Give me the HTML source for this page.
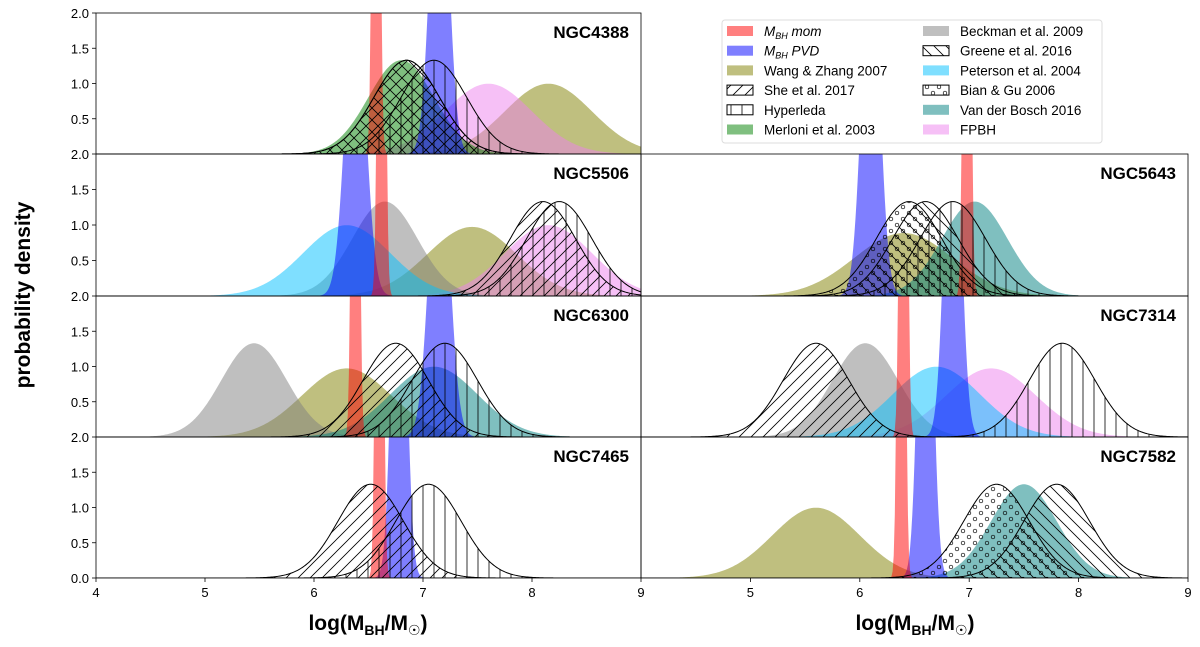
<!DOCTYPE html>
<html><head><meta charset="utf-8"><style>
body{margin:0;background:#fff;}
svg{font-family:"Liberation Sans","DejaVu Sans",sans-serif;}
</style></head><body>
<svg id="chart" width="1200" height="642" xmlns="http://www.w3.org/2000/svg">
<defs>
<pattern id="h-she" patternUnits="userSpaceOnUse" width="12" height="12"><path d="M-3,3 L3,-3 M0,12 L12,0 M9,15 L15,9" stroke="#000" stroke-width="0.8"/></pattern>
<pattern id="h-greene" patternUnits="userSpaceOnUse" width="12" height="12"><path d="M-3,9 L3,15 M0,0 L12,12 M9,-3 L15,3" stroke="#000" stroke-width="0.8"/></pattern>
<pattern id="h-hyper" patternUnits="userSpaceOnUse" width="11" height="11"><path d="M5,0 L5,11" stroke="#000" stroke-width="0.8"/></pattern>
<pattern id="h-bian" patternUnits="userSpaceOnUse" width="12" height="12"><circle cx="3" cy="3" r="1.8" fill="none" stroke="#000" stroke-width="0.7"/><circle cx="9" cy="9" r="1.8" fill="none" stroke="#000" stroke-width="0.7"/></pattern>
<pattern id="h-cross" patternUnits="userSpaceOnUse" width="12" height="12"><path d="M0,12 L12,0 M0,0 L12,12" stroke="#000" stroke-width="0.8"/></pattern>
</defs>
<g id="plots"></g>
<text x="30" y="295" transform="rotate(-90 30 295)" text-anchor="middle" font-size="21" font-weight="bold">probability density</text>
<text x="368" y="630" text-anchor="middle" font-size="21" font-weight="bold">log(M<tspan font-size="14" dy="5">BH</tspan><tspan dy="-5">/M</tspan><tspan font-size="14" dy="5">☉</tspan><tspan dy="-5">)</tspan></text>
<text x="915" y="630" text-anchor="middle" font-size="21" font-weight="bold">log(M<tspan font-size="14" dy="5">BH</tspan><tspan dy="-5">/M</tspan><tspan font-size="14" dy="5">☉</tspan><tspan dy="-5">)</tspan></text>
<g id="legend"></g>
</svg>
<script>
const panelNames = ["NGC4388","NGC5506","NGC5643","NGC6300","NGC7314","NGC7465","NGC7582"];
const panelCols = [0,0,1,0,1,0,1];
const panelRows = [0,1,1,2,2,3,3];
// components: panel index, type, mean, sigma
const compPanel = [0,0,0,0,0,0,0,0,
  1,1,1,1,1,1,1,1,
  2,2,2,2,2,2,2,
  3,3,3,3,3,3,3,
  4,4,4,4,4,4,4,
  5,5,5,5,
  6,6,6,6,6,6];
const compType = ["wang","fpbh","merloni","pvd","mom","she","greene","hyper",
  "peterson","beckman","wang","fpbh","pvd","mom","she","hyper",
  "wang","vdb","pvd","mom","bian","greene","hyper",
  "beckman","wang","vdb","pvd","mom","she","hyper",
  "beckman","peterson","fpbh","mom","pvd","she","hyper",
  "mom","pvd","she","hyper",
  "wang","vdb","mom","pvd","bian","greene"];
const compMean = [8.15,7.6,6.8,7.15,6.57,6.85,6.85,7.1,
  6.3,6.65,7.45,8.15,6.38,6.62,8.1,8.25,
  6.4,7.05,6.1,6.98,6.45,6.6,6.85,
  5.45,6.3,7.1,7.15,6.38,6.75,7.2,
  6.05,6.7,7.2,6.4,6.85,5.6,7.85,
  6.6,6.78,6.52,7.05,
  5.6,7.5,6.38,6.6,7.25,7.8];
const compSigma = [0.4,0.4,0.3,0.08,0.025,0.3,0.3,0.3,
  0.4,0.3,0.41,0.4,0.09,0.025,0.3,0.3,
  0.45,0.3,0.08,0.025,0.3,0.3,0.3,
  0.3,0.41,0.4,0.09,0.025,0.3,0.3,
  0.3,0.4,0.41,0.025,0.07,0.3,0.3,
  0.025,0.06,0.3,0.3,
  0.4,0.3,0.025,0.06,0.3,0.3];
const xTicks = [4,5,6,7,8,9];
const yTicks = [0,0.5,1.0,1.5,2.0];
const yTickLabels = ["0.0","0.5","1.0","1.5","2.0"];

const styles = {
  wang:{fill:"rgba(128,128,0,0.5)"}, fpbh:{fill:"rgba(238,130,238,0.5)"},
  merloni:{fill:"rgba(0,128,0,0.5)"}, pvd:{fill:"rgba(0,0,255,0.5)"},
  mom:{fill:"rgba(255,0,0,0.5)"}, beckman:{fill:"rgba(128,128,128,0.5)"},
  peterson:{fill:"rgba(0,191,255,0.5)"}, vdb:{fill:"rgba(0,128,128,0.5)"},
  she:{fill:"url(#h-she)",stroke:"#000"}, greene:{fill:"url(#h-greene)",stroke:"#000"},
  hyper:{fill:"url(#h-hyper)",stroke:"#000"}, bian:{fill:"url(#h-bian)",stroke:"#000"}
};
const order = ["wang","fpbh","beckman","peterson","vdb","merloni","pvd","mom","she","greene","hyper","bian"];
const colX = [[96,641],[641,1188]];
const rowY = [13,154,296,437,578];
const NS="http://www.w3.org/2000/svg";
const g = document.getElementById('plots');
function mk(t,a,p){const e=document.createElementNS(NS,t);for(const k in a)e.setAttribute(k,a[k]);(p||g).appendChild(e);return e;}
function xs(c,v){return colX[c][0]+(v-4)/5*(colX[c][1]-colX[c][0]);}
function ys(r,v){return rowY[r+1]-v/2*(rowY[r+1]-rowY[r]);}

panelNames.forEach((nm,pi)=>{
  const c=panelCols[pi], r=panelRows[pi];
  const pg=mk('g',{});
  
  
  mk('clipPath',{id:'cp'+pi},pg);
  mk('rect',{x:colX[c][0],y:rowY[r],width:colX[c][1]-colX[c][0],height:rowY[r+1]-rowY[r]},pg.lastChild);
  const cg=mk('g',{'clip-path':'url(#cp'+pi+')'},pg);
  const idx=[];compPanel.forEach((p,i)=>{if(p===pi)idx.push(i);});
  idx.sort((a,b)=>order.indexOf(compType[a])-order.indexOf(compType[b]));
  idx.forEach(i=>{
    const m=compMean[i], s=compSigma[i], st=styles[compType[i]];
    let d='M'+xs(c,4)+','+ys(r,0);
    for(let k=0;k<=500;k++){const x=4+5*k/500;const v=Math.exp(-0.5*((x-m)/s)**2)/(s*Math.sqrt(2*Math.PI));d+=' L'+xs(c,x).toFixed(2)+','+ys(r,Math.min(v,3)).toFixed(2);}
    d+=' L'+xs(c,9)+','+ys(r,0)+' Z';
    const p=mk('path',{d:d,fill:st.fill,stroke:st.stroke||'none','stroke-width':st.stroke?1:0},cg);
    
    
  });
  mk('rect',{x:colX[c][0],y:rowY[r],width:colX[c][1]-colX[c][0],height:rowY[r+1]-rowY[r],fill:'none',stroke:'#000','stroke-width':0.8},pg);
  const t=mk('text',{x:colX[c][1]-12,y:rowY[r]+25,'text-anchor':'end','font-size':17,'font-weight':'bold'},pg);
  t.textContent=nm;
  
  
  if(c===0){
    yTicks.forEach((v,k)=>{
      if(v===0 && r<3) return;
      const y=ys(r,v);
      mk('line',{x1:colX[0][0]-4,x2:colX[0][0],y1:y,y2:y,stroke:'#000','stroke-width':0.8},pg);
      const tl=mk('text',{x:colX[0][0]-7,y:y+5,'text-anchor':'end','font-size':13},pg);
      tl.textContent=yTickLabels[k];
      
      
    });
  }
  if(r===3){
    xTicks.forEach(v=>{
      if(c===1 && v===4) return;
      const x=xs(c,v);
      mk('line',{x1:x,x2:x,y1:rowY[4],y2:rowY[4]+4,stroke:'#000','stroke-width':0.8},pg);
      const tl=mk('text',{x:x,y:rowY[4]+19,'text-anchor':'middle','font-size':13},pg);
      tl.textContent=String(v);
      
      
    });
  }
});

// legend
const legLabels = ["M_BH mom","M_BH PVD","Wang & Zhang 2007","She et al. 2017","Hyperleda","Merloni et al. 2003",
  "Beckman et al. 2009","Greene et al. 2016","Peterson et al. 2004","Bian & Gu 2006","Van der Bosch 2016","FPBH"];
const legTypes = ["mom","pvd","wang","she","hyper","merloni","beckman","greene","peterson","bian","vdb","fpbh"];
const lg=document.getElementById('legend');
mk('rect',{x:722,y:20,width:380,height:123,rx:3,fill:'#fff',stroke:'#ddd'},lg);
legTypes.forEach((tp,i)=>{
  const col=Math.floor(i/6), row=i%6;
  const px=col?923:727, ty=31+row*19.7;
  const st=styles[tp];
  mk('rect',{x:px,y:ty-5,width:26,height:10,fill:st.fill,stroke:st.stroke||'none'},lg);
  const t=mk('text',{x:px+37,y:ty+5,'font-size':13.5},lg);
  
  
  if(i<2){
    t.setAttribute('font-style','italic');
    t.innerHTML='M<tspan font-size="9" dy="3">BH</tspan><tspan dy="-3"> '+(i===0?'mom':'PVD')+'</tspan>';
  } else t.textContent=legLabels[i];
});
</script>
</body></html>
